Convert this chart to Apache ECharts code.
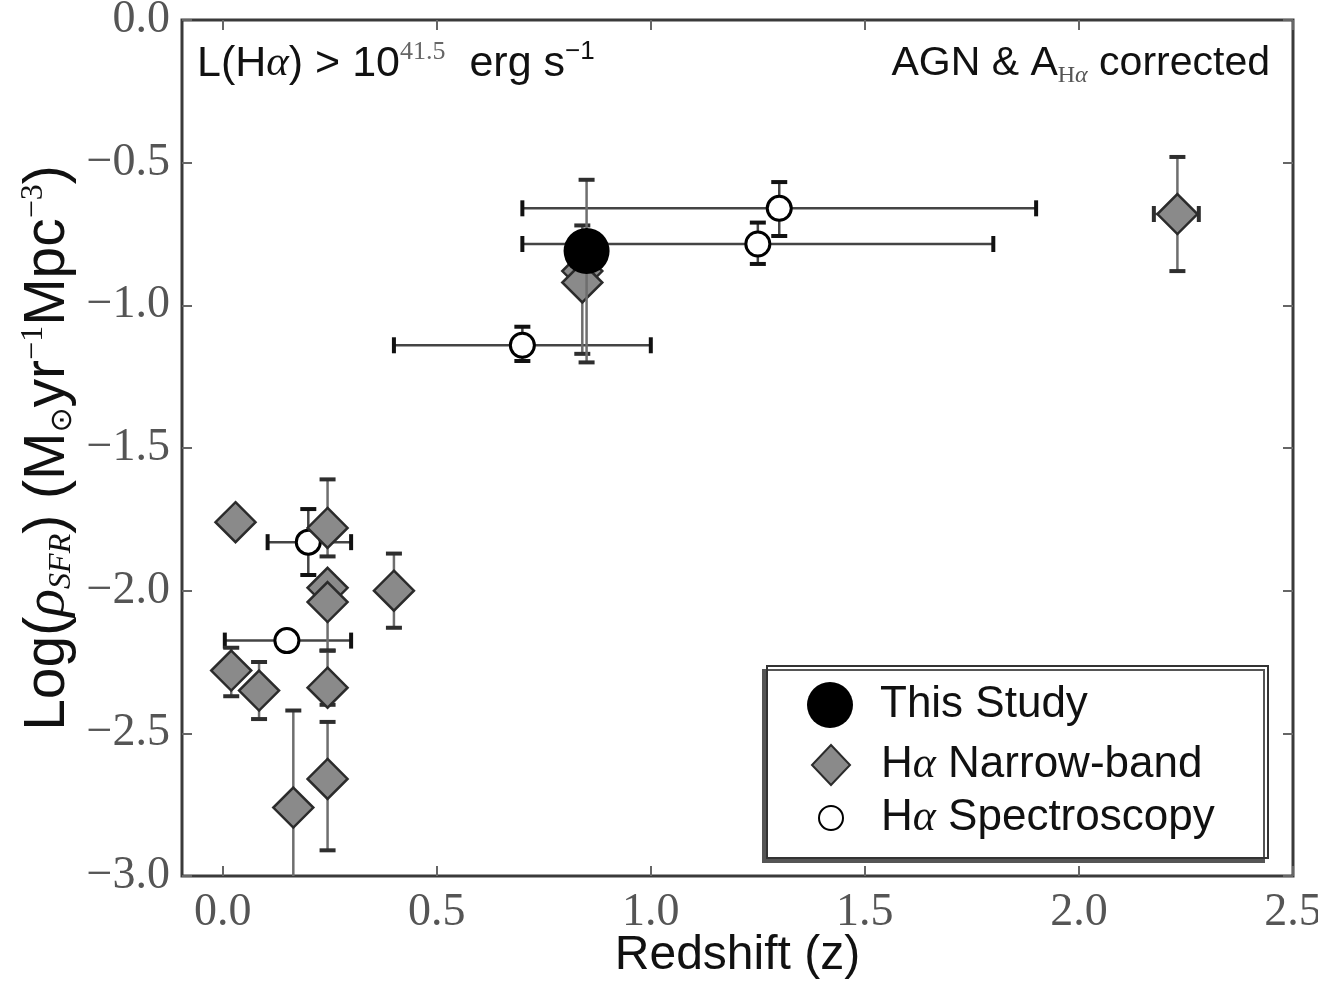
<!DOCTYPE html>
<html>
<head>
<meta charset="utf-8">
<script src="https://cdn.jsdelivr.net/npm/echarts@6/dist/echarts.min.js"></script>
<style>
  html, body { margin: 0; padding: 0; background: #fff; }
  #chart { width: 1318px; height: 981px; }
</style>
</head>
<body>
<div id="chart"></div>
<script>
// x ticks and y ticks
var xTicks = [0, 0.5, 1, 1.5, 2, 2.5];

// This Study
var tsZ = [0.85];
var tsSfr = [-0.81];
var tsLo = [-1.20];
var tsHi = [-0.56];

// H-alpha narrow-band
var nbZ   = [0.03,  0.245, 0.245, 0.245, 0.40,  0.02,  0.085, 0.245, 0.245, 0.165, 0.84,  0.84,  2.23];
var nbSfr = [-1.76, -1.78, -1.99, -2.04, -2.00, -2.28, -2.35, -2.34, -2.66, -2.76, -0.88, -0.92, -0.68];
var nbZLo = [null,  null,  null,  null,  null,  null,  null,  null,  null,  null,  null,  null,  2.175];
var nbZHi = [null,  null,  null,  null,  null,  null,  null,  null,  null,  null,  null,  null,  2.28];
var nbLo  = [null,  -1.88, null,  -2.21, -2.13, -2.37, -2.45, -2.40, -2.91, -3.10, -1.17, null,  -0.88];
var nbHi  = [null,  -1.61, null,  -1.95, -1.87, -2.20, -2.25, -2.21, -2.46, -2.42, -0.72, null,  -0.48];

// H-alpha spectroscopy
var spZ   = [0.70,  1.25,  1.30,  0.20,  0.15];
var spSfr = [-1.14, -0.785, -0.66, -1.83, -2.175];
var spZLo = [0.40,  0.70,  0.70,  0.105, 0.005];
var spZHi = [1.00,  1.80,  1.90,  0.30,  0.30];
var spLo  = [-1.195, -0.855, -0.757, -1.945, null];
var spHi  = [-1.075, -0.71, -0.568, -1.714, null];

function num(v) { return v == null ? NaN : v; }

function pts(xs, ys) {
  return xs.map(function (x, i) { return [x, ys[i]]; });
}

function errRows(xs, ys, xlo, xhi, ylo, yhi) {
  return xs.map(function (x, i) {
    return [x, ys[i], num(xlo ? xlo[i] : null), num(xhi ? xhi[i] : null), num(ylo[i]), num(yhi[i])];
  });
}

function seg(x1, y1, x2, y2, color, w) {
  return { type: 'line', shape: { x1: x1, y1: y1, x2: x2, y2: y2 }, style: { stroke: color, lineWidth: w } };
}

function errorBars(lineColor, capColor) {
  return function (params, api) {
    var x = api.value(0), y = api.value(1);
    var xLo = api.value(2), xHi = api.value(3), yLo = api.value(4), yHi = api.value(5);
    var kids = [];
    if (isFinite(xLo) && isFinite(xHi)) {
      var l = api.coord([xLo, y]), r = api.coord([xHi, y]);
      kids.push(seg(l[0], l[1], r[0], r[1], lineColor, 2.5));
      kids.push(seg(l[0], l[1] - 8, l[0], l[1] + 8, capColor, 4));
      kids.push(seg(r[0], r[1] - 8, r[0], r[1] + 8, capColor, 4));
    }
    if (isFinite(yLo) && isFinite(yHi)) {
      var b = api.coord([x, yLo]), t = api.coord([x, yHi]);
      kids.push(seg(b[0], b[1], t[0], t[1], lineColor, 2.5));
      kids.push(seg(b[0] - 8, b[1], b[0] + 8, b[1], capColor, 4));
      kids.push(seg(t[0] - 8, t[1], t[0] + 8, t[1], capColor, 4));
    }
    return { type: 'group', children: kids };
  };
}

var sans = 'Liberation Sans';
var serif = 'Liberation Serif';

var chart = echarts.init(document.getElementById('chart'));

var tickStyle = { show: true, inside: true, length: 10, lineStyle: { color: '#666', width: 2 } };
var noLine = { show: false, onZero: false };

function legendFor(name, w, h, centerY, padLeft) {
  return {
    data: [name],
    selectedMode: false,
    orient: 'vertical',
    left: 830 - w / 2,
    top: centerY - 24,
    padding: 0,
    itemWidth: w,
    itemHeight: h,
    z: 10,
    formatter: function (n) { return n.replace('α', '{a|α}'); },
    textStyle: {
      fontFamily: sans, fontSize: 44, color: '#111', lineHeight: 48,
      padding: [0, 0, 0, padLeft],
      rich: { a: { fontFamily: serif, fontStyle: 'italic', fontSize: 44, color: '#111', lineHeight: 48 } }
    }
  };
}

chart.setOption({
  animation: false,
  backgroundColor: '#fff',
  grid: {
    left: 182, top: 20, width: 1111, height: 856,
    outerBoundsMode: 'none', containLabel: false,
    show: true, borderColor: '#3a3a3a', borderWidth: 3, backgroundColor: 'transparent'
  },
  xAxis: [{
    type: 'value', min: -0.095, max: 2.5,
    splitLine: { show: false },
    axisLine: noLine,
    axisTick: Object.assign({ customValues: xTicks }, tickStyle),
    axisLabel: {
      customValues: xTicks, margin: 14,
      fontFamily: serif, fontSize: 46, color: '#555',
      formatter: function (v) { return v.toFixed(1); }
    },
    name: 'Redshift (z)', nameLocation: 'middle', nameGap: 52, nameMoveOverlap: false,
    nameTextStyle: { fontFamily: sans, fontSize: 48, color: '#111', lineHeight: 56 }
  }, {
    type: 'value', position: 'top', min: -0.095, max: 2.5,
    splitLine: { show: false },
    axisLine: noLine,
    axisTick: Object.assign({ customValues: xTicks }, tickStyle),
    axisLabel: { show: false }
  }],
  yAxis: [{
    type: 'value', min: -3, max: 0, interval: 0.5,
    splitLine: { show: false },
    axisLine: noLine,
    axisTick: tickStyle,
    axisLabel: {
      margin: 12, fontFamily: serif, fontSize: 46, color: '#555',
      formatter: function (v) { return (v < 0 ? '\u2212' : '') + Math.abs(v).toFixed(1); }
    },
    name: 'Log({i|ρ}{sub|SFR}) (M{sub2|⊙}yr{sup|\u22121}Mpc{sup|\u22123})',
    nameLocation: 'middle', nameGap: 104, nameRotate: 90, nameMoveOverlap: false,
    nameTextStyle: {
      fontFamily: sans, fontSize: 57, color: '#111', lineHeight: 60,
      rich: {
        i: { fontFamily: serif, fontStyle: 'italic', fontSize: 58, color: '#111' },
        sub: { fontFamily: serif, fontStyle: 'italic', fontSize: 32, lineHeight: 30, color: '#111', verticalAlign: 'bottom' },
        sub2: { fontFamily: 'DejaVu Sans', fontSize: 30, lineHeight: 30, color: '#111', verticalAlign: 'bottom' },
        sup: { fontFamily: serif, fontSize: 32, lineHeight: 30, color: '#111', verticalAlign: 'top' }
      }
    }
  }, {
    type: 'value', position: 'right', min: -3, max: 0, interval: 0.5,
    splitLine: { show: false },
    axisLine: noLine,
    axisTick: tickStyle,
    axisLabel: { show: false }
  }],
  legend: [
    legendFor('This Study', 46, 46, 705, 22),
    legendFor('Hα Narrow-band', 38, 40, 765, 26),
    legendFor('Hα Spectroscopy', 24, 24, 818, 33)
  ],
  graphic: [
    {
      type: 'rect', z: 1,
      shape: { x: 767, y: 666, width: 501, height: 192 },
      style: { fill: '#fff', stroke: '#333', lineWidth: 2, shadowColor: '#555', shadowBlur: 0, shadowOffsetX: -4, shadowOffsetY: 4 }
    },
    {
      type: 'text', z: 5, x: 197, y: 64,
      style: {
        text: 'L(H{a|α}) > 10{sup|41.5}  erg s{sup2|\u22121}',
        fontFamily: sans, fontSize: 43, fill: '#111', lineHeight: 50,
        align: 'left', verticalAlign: 'middle',
        rich: {
          a: { fontFamily: serif, fontStyle: 'italic', fontSize: 43, fill: '#111' },
          sup: { fontFamily: serif, fontSize: 26, lineHeight: 22, fill: '#666', verticalAlign: 'top' },
          sup2: { fontFamily: sans, fontSize: 26, lineHeight: 22, fill: '#111', verticalAlign: 'top' }
        }
      }
    },
    {
      type: 'text', z: 5, x: 1270, y: 64,
      style: {
        text: 'AGN & A{sub|H}{suba|α} corrected',
        fontFamily: sans, fontSize: 41, fill: '#111', lineHeight: 48,
        align: 'right', verticalAlign: 'middle',
        rich: {
          sub: { fontFamily: serif, fontSize: 24, lineHeight: 24, fill: '#555', verticalAlign: 'bottom' },
          suba: { fontFamily: serif, fontStyle: 'italic', fontSize: 24, lineHeight: 24, fill: '#555', verticalAlign: 'bottom' }
        }
      }
    }
  ],
  series: [
    {
      type: 'custom', name: 'spErr', z: 2, clip: true,
      renderItem: errorBars('#444', '#111'),
      dimensions: ['z', 'sfr', 'zlo', 'zhi', 'lo', 'hi'],
      encode: { x: 0, y: 1 },
      data: errRows(spZ, spSfr, spZLo, spZHi, spLo, spHi)
    },
    {
      type: 'scatter', name: 'Hα Spectroscopy', z: 3,
      symbol: 'circle', symbolSize: 24,
      itemStyle: { color: '#fff', borderColor: '#000', borderWidth: 3, opacity: 1 },
      data: pts(spZ, spSfr)
    },
    {
      type: 'custom', name: 'nbErr', z: 4, clip: true,
      renderItem: errorBars('#6e6e6e', '#2e2e2e'),
      dimensions: ['z', 'sfr', 'zlo', 'zhi', 'lo', 'hi'],
      encode: { x: 0, y: 1 },
      data: errRows(nbZ, nbSfr, nbZLo, nbZHi, nbLo, nbHi)
    },
    {
      type: 'scatter', name: 'Hα Narrow-band', z: 5,
      symbol: 'diamond', symbolSize: 40,
      itemStyle: { color: '#8a8a8a', borderColor: '#2b2b2b', borderWidth: 2.5, opacity: 1 },
      data: pts(nbZ, nbSfr)
    },
    {
      type: 'custom', name: 'tsErr', z: 6, clip: true,
      renderItem: errorBars('#6e6e6e', '#2e2e2e'),
      dimensions: ['z', 'sfr', 'zlo', 'zhi', 'lo', 'hi'],
      encode: { x: 0, y: 1 },
      data: errRows(tsZ, tsSfr, null, null, tsLo, tsHi)
    },
    {
      type: 'scatter', name: 'This Study', z: 7,
      symbol: 'circle', symbolSize: 46,
      itemStyle: { color: '#000', opacity: 1 },
      data: pts(tsZ, tsSfr)
    }
  ]
});
</script>
</body>
</html>
